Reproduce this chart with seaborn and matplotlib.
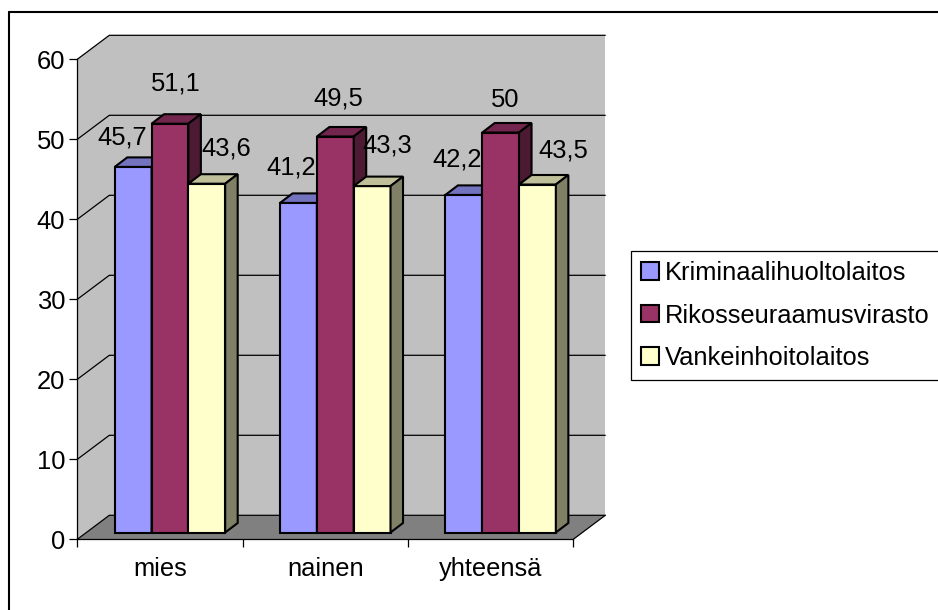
import pandas as pd
import matplotlib
matplotlib.use('Agg')
import matplotlib.pyplot as plt
import matplotlib.colors as mcolors
from matplotlib.lines import Line2D
from matplotlib.patches import Polygon
import seaborn as sns

# data
categories = ['mies', 'nainen', 'yhteensä']
series_names = ['Kriminaalihuoltolaitos', 'Rikosseuraamusvirasto', 'Vankeinhoitolaitos']
kriminaalihuolto = [45.7, 41.2, 42.2]
rikosseuraamus = [51.1, 49.5, 50]
vankeinhoito = [43.6, 43.3, 43.5]
y_ticks = [0, 10, 20, 30, 40, 50, 60]

colors = ['#9999FF', '#993366', '#FFFFCC']

# label offsets from the bar top in pixels, the old chart placed them by hand
label_offsets = [(-11, 29), (-7, 35), (-7, 35),
                 (6, 40), (3, 38), (5, 33),
                 (19, 35), (15, 41), (26, 34)]

W, H = 938, 610
LEFT, RIGHT, Y0, Y60 = 77.3, 573.3, 539.3, 59.3
PX_X = (RIGHT - LEFT) / 3
PX_Y = (Y0 - Y60) / 60
FONT = 18.4

# depth of the fake 3D box and of the bars, in data units
WALL_DX, WALL_DY = 32 / PX_X, 24 / PX_Y
BAR_DX, BAR_DY = 12.5 / PX_X, 9.5 / PX_Y
BAR_SHIFT, BAR_BASE = 10 / PX_X, 0.85

sns.set_style('white')
plt.rcParams['font.family'] = ['Liberation Sans', 'DejaVu Sans']
plt.rcParams['font.size'] = FONT
plt.rcParams['text.color'] = 'black'

df = pd.DataFrame({
    'kategoria': categories * 3,
    'laitos': [n for n in series_names for _ in categories],
    'arvo': kriminaalihuolto + rikosseuraamus + vankeinhoito,
})

fig = plt.figure(figsize=(W / 100, H / 100), dpi=100)
ax = fig.add_axes([LEFT / W, 1 - Y0 / H, (RIGHT - LEFT) / W, (Y0 - Y60) / H])
ax.patch.set_visible(False)

sns.barplot(data=df, x='kategoria', y='arvo', hue='laitos', palette=colors,
            saturation=1, width=0.668, gap=0, edgecolor='black', linewidth=1.5,
            ax=ax, zorder=5)

ax.set_xlim(-0.5, 2.5)
ax.set_ylim(0, 60)
xl, xr = -0.5, 2.5
xb, xe = xl + WALL_DX, xr + WALL_DX

# walls and floor
ax.add_patch(Polygon([(xb, WALL_DY), (xe, WALL_DY), (xe, 60 + WALL_DY), (xb, 60 + WALL_DY)],
                     fc='#C0C0C0', ec='none', zorder=0, clip_on=False))
ax.add_patch(Polygon([(xl, 0), (xb, WALL_DY), (xb, 60 + WALL_DY), (xl, 60)],
                     fc='#C0C0C0', ec='none', zorder=0, clip_on=False))
ax.add_patch(Polygon([(xl, 0), (xr, 0), (xe, WALL_DY), (xb, WALL_DY)],
                     fc='#808080', ec='none', zorder=0, clip_on=False))

# gridlines on the back and left wall
for t in y_ticks:
    ax.plot([xl, xb, xe], [t, t + WALL_DY, t + WALL_DY], color='black', lw=0.9,
            zorder=1, clip_on=False)
ax.plot([xr, xe], [0, WALL_DY], color='black', lw=0.9, zorder=1, clip_on=False)

# bars: move the fronts into the box and add top and side
bars = [b for c in ax.containers for b in c]
values = [b.get_height() for b in bars]
order = sorted(range(len(bars)), key=lambda i: bars[i].get_x())
for z, i in enumerate(order):
    b = bars[i]
    b.set_x(b.get_x() + BAR_SHIFT)
    b.set_y(BAR_BASE)
    b.set_zorder(5 + z)
    b.set_clip_on(False)
    x0, x1 = b.get_x(), b.get_x() + b.get_width()
    y0, y1 = BAR_BASE, BAR_BASE + b.get_height()
    rgb = mcolors.to_rgb(b.get_facecolor())
    top = tuple(c * 0.75 for c in rgb)
    side = tuple(c * 0.5 for c in rgb)
    ax.add_patch(Polygon([(x0, y1), (x1, y1), (x1 + BAR_DX, y1 + BAR_DY), (x0 + BAR_DX, y1 + BAR_DY)],
                         fc=top, ec='black', lw=1.5, zorder=5 + z, clip_on=False))
    ax.add_patch(Polygon([(x1, y0), (x1 + BAR_DX, y0 + BAR_DY), (x1 + BAR_DX, y1 + BAR_DY), (x1, y1)],
                         fc=side, ec='black', lw=1.5, zorder=5 + z, clip_on=False))

    text = f'{values[i]:g}'.replace('.', ',')
    ax.annotate(text, xy=((x0 + x1) / 2, y1), xytext=label_offsets[i],
                textcoords='offset pixels', ha='center', va='center',
                fontsize=FONT, color='black', zorder=40)

# axes
sns.despine(ax=ax, top=True, right=True)
for s in ['left', 'bottom']:
    ax.spines[s].set_color('black')
    ax.spines[s].set_linewidth(0.9)
    ax.spines[s].set_zorder(2)
ax.set_xlabel('')
ax.set_ylabel('')
ax.set_yticks(y_ticks)
ax.set_xticks([-0.5, 0.5, 1.5, 2.5])
ax.set_xticklabels([])
ax.set_xticks([0, 1, 2], minor=True)
ax.set_xticklabels(categories, minor=True)
ax.tick_params(axis='y', which='major', left=True, length=5.8, width=0.9, pad=3,
               labelsize=FONT, color='black', labelcolor='black')
ax.tick_params(axis='x', which='major', bottom=True, length=5.8, width=0.9, color='black')
ax.tick_params(axis='x', which='minor', bottom=False, length=0, pad=13,
               labelsize=FONT, labelcolor='black')

# legend, it runs off the right edge like in the original
sns.move_legend(ax, 'upper left', bbox_to_anchor=(631 / W, 1 - 251 / H),
                bbox_transform=fig.transFigure, title=None, frameon=True,
                fancybox=False, framealpha=1, edgecolor='black', borderaxespad=0,
                borderpad=0.4, labelspacing=0.72, handlelength=0.68, handleheight=0.68,
                handletextpad=0.24, fontsize=FONT, labelcolor='black')
ax.get_legend().set_zorder(50)
ax.get_legend().get_frame().set_linewidth(0.9)

# chart frame, only left and top are in the picture
fig.add_artist(Line2D([9 / W, 9 / W], [0, 1 - 12 / H], color='black', lw=1.5))
fig.add_artist(Line2D([9 / W, 1], [1 - 12 / H, 1 - 12 / H], color='black', lw=1.5))

fig.savefig('out.png', dpi=100)
